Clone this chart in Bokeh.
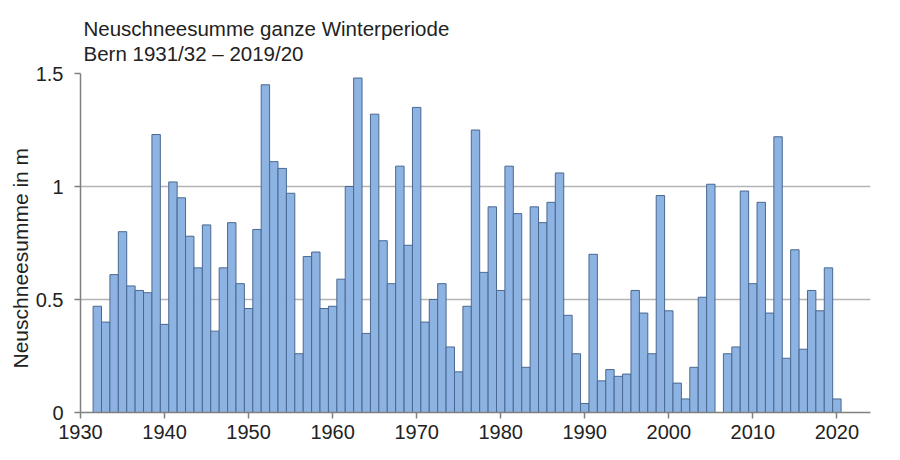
from bokeh.plotting import figure
from bokeh.models import ColumnDataSource, FixedTicker, CustomJSTickFormatter, Range1d, Title
from bokeh.embed import file_html
from bokeh.resources import INLINE

# Winter ending year (1931/32 -> 1932 ... 2019/20 -> 2020)
years = list(range(1932, 2021))
snow_m = [
    0.47, 0.40, 0.61, 0.80, 0.56, 0.54, 0.53, 1.23, 0.39,        # 1932-1940
    1.02, 0.95, 0.78, 0.64, 0.83, 0.36, 0.64, 0.84, 0.57, 0.46,  # 1941-1950
    0.81, 1.45, 1.11, 1.08, 0.97, 0.26, 0.69, 0.71, 0.46, 0.47,  # 1951-1960
    0.59, 1.00, 1.48, 0.35, 1.32, 0.76, 0.57, 1.09, 0.74, 1.35,  # 1961-1970
    0.40, 0.50, 0.57, 0.29, 0.18, 0.47, 1.25, 0.62, 0.91, 0.54,  # 1971-1980
    1.09, 0.88, 0.20, 0.91, 0.84, 0.93, 1.06, 0.43, 0.26, 0.04,  # 1981-1990
    0.70, 0.14, 0.19, 0.16, 0.17, 0.54, 0.44, 0.26, 0.96, 0.45,  # 1991-2000
    0.13, 0.06, 0.20, 0.51, 1.01, None, 0.26, 0.29, 0.98, 0.57,  # 2001-2010
    0.93, 0.44, 1.22, 0.24, 0.72, 0.28, 0.54, 0.45, 0.64, 0.06,  # 2011-2020
]
x_ticks = [1930, 1940, 1950, 1960, 1970, 1980, 1990, 2000, 2010, 2020]
y_ticks = [0, 0.5, 1, 1.5]
title_lines = ["Neuschneesumme ganze Winterperiode", "Bern 1931/32 \u2013 2019/20"]
y_label = "Neuschneesumme in m"

pairs = [(y, v) for y, v in zip(years, snow_m) if v is not None]
src = ColumnDataSource(dict(year=[a for a, _ in pairs], val=[b for _, b in pairs]))

FONT = "Liberation Sans"
TXT = "#222222"

p = figure(width=900, height=460, output_backend="svg", toolbar_location=None,
           x_range=Range1d(1930, 2024), y_range=Range1d(0, 1.5),
           min_border_left=80, min_border_right=30, min_border_top=73, min_border_bottom=48)
p.outline_line_color = None
p.background_fill_color = "white"
p.border_fill_color = "white"

p.vbar(x="year", top="val", width=1.0, bottom=0, source=src,
       fill_color="#8DB3E2", line_color="#4A6890", line_width=1)

# grid
p.xgrid.grid_line_color = None
p.ygrid.ticker = FixedTicker(ticks=y_ticks)
p.ygrid.grid_line_color = "#B4B4B4"
p.ygrid.grid_line_width = 1.5

# axes
p.xaxis.ticker = FixedTicker(ticks=x_ticks)
p.yaxis.ticker = FixedTicker(ticks=y_ticks)
p.yaxis.formatter = CustomJSTickFormatter(code="return tick.toString();")
for ax in (p.xaxis[0], p.yaxis[0]):
    ax.axis_line_color = "#808080"
    ax.axis_line_width = 1.5
    ax.major_tick_line_color = "#808080"
    ax.major_tick_line_width = 1.5
    ax.major_tick_out = 6
    ax.major_tick_in = 0
    ax.minor_tick_line_color = None
    ax.major_label_text_font = FONT
    ax.major_label_text_font_size = "20px"
    ax.major_label_text_color = TXT
p.xaxis.major_label_standoff = 6
p.yaxis.major_label_standoff = 11

# y-axis title, drawn as a left-side title so it can sit slightly below centre
p.add_layout(Title(text=y_label, align="left", offset=44, standoff=2,
                   text_font=FONT, text_font_size="21px", text_color=TXT,
                   text_font_style="normal"), "left")

# two-line title (spacer first, then inner line, so lines stack upward from the frame)
p.add_layout(Title(text=" ", text_font_size="1px", standoff=6), "above")
for t in reversed(title_lines):
    p.add_layout(Title(text=t, align="left", offset=3, standoff=0,
                       text_font=FONT, text_font_size="20.5px", text_color=TXT,
                       text_font_style="normal"), "above")

open("out.html", "w").write(file_html(p, INLINE))
